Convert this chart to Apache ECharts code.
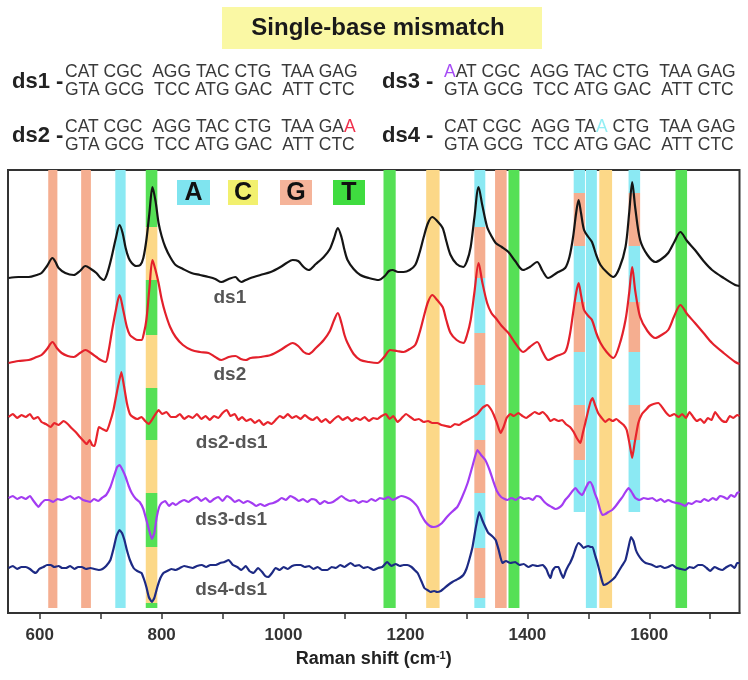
<!DOCTYPE html>
<html>
<head>
<meta charset="utf-8">
<script src="https://cdn.jsdelivr.net/npm/echarts@6.0.0/dist/echarts.min.js"></script>
<style>
html,body{margin:0;padding:0;background:#fff;}
#chart{width:748px;height:680px;}
</style>
</head>
<body>
<div id="chart"></div>
<script>
// ---------------- DATA ----------------
const xTickValues = [600, 700, 800, 900, 1000, 1100, 1200, 1300, 1400, 1500, 1600, 1700];
const xLabelValues = [600, 800, 1000, 1200, 1400, 1600];

const ds1 = [[549,335],[565,336],[582,336],[595,338],[603,340],[612,347],[621,355],[626,351],[631,345],[642,340],[656,338],[666,342],[675,347],[684,344],[693,340],[700,335],[705,333],[711,340],[718,356],[725,375],[731,388],[736,380],[741,365],[746,355],[751,350],[758,347],[765,348],[770,355],[775,373],[780,400],[785,426],[790,412],[795,390],[800,377],[806,366],[814,356],[823,348],[835,344],[849,340],[863,338],[877,336],[888,334],[898,331],[910,334],[921,336],[926,333],[931,331],[938,333],[946,335],[962,338],[979,341],[995,346],[1005,350],[1015,353],[1024,352],[1033,346],[1041,343],[1053,349],[1066,356],[1076,364],[1083,375],[1089,385],[1095,376],[1100,363],[1105,353],[1115,344],[1126,338],[1140,335],[1156,333],[1166,337],[1173,342],[1179,343],[1188,341],[1197,341],[1207,343],[1216,348],[1223,360],[1230,376],[1237,390],[1244,396],[1252,392],[1261,385],[1267,372],[1274,358],[1284,349],[1295,346],[1301,352],[1307,366],[1313,395],[1320,426],[1326,408],[1334,386],[1341,377],[1348,370],[1358,366],[1369,361],[1380,352],[1393,343],[1404,346],[1416,351],[1425,342],[1434,335],[1448,340],[1462,345],[1469,356],[1475,376],[1480,400],[1484,413],[1488,400],[1493,383],[1500,376],[1506,371],[1513,358],[1520,348],[1530,341],[1541,336],[1551,345],[1561,366],[1567,400],[1572,431],[1577,405],[1585,373],[1597,358],[1610,351],[1620,354],[1631,360],[1641,371],[1651,381],[1662,372],[1675,363],[1689,352],[1703,343],[1722,335],[1741,328],[1748,327]];

const ds2 = [[549,250],[565,252],[582,253],[595,256],[603,258],[612,264],[621,271],[628,265],[636,260],[646,257],[656,256],[666,260],[675,263],[684,260],[693,256],[700,253],[708,251],[713,262],[718,280],[725,303],[731,318],[737,303],[743,286],[748,278],[754,275],[761,273],[767,273],[771,280],[775,293],[780,325],[785,353],[790,343],[795,330],[800,314],[806,300],[814,286],[823,276],[835,268],[849,263],[863,261],[877,260],[888,256],[898,253],[910,256],[921,257],[930,254],[938,253],[946,255],[962,256],[979,258],[995,263],[1005,267],[1015,270],[1024,267],[1033,261],[1041,259],[1053,265],[1066,273],[1076,282],[1083,293],[1089,300],[1095,290],[1100,278],[1105,270],[1115,259],[1126,253],[1140,251],[1154,250],[1165,256],[1175,263],[1186,262],[1197,261],[1207,264],[1216,268],[1223,280],[1230,296],[1237,311],[1244,318],[1252,313],[1261,306],[1267,293],[1274,280],[1284,273],[1295,270],[1301,278],[1307,293],[1313,320],[1320,350],[1326,331],[1334,310],[1341,300],[1348,295],[1358,287],[1369,280],[1380,270],[1393,261],[1404,266],[1416,271],[1425,261],[1434,253],[1448,257],[1462,261],[1469,276],[1475,300],[1480,320],[1484,330],[1488,318],[1493,303],[1500,297],[1506,293],[1513,280],[1520,270],[1530,261],[1541,255],[1551,268],[1561,293],[1567,320],[1572,346],[1577,322],[1585,296],[1597,282],[1610,275],[1620,278],[1631,283],[1641,297],[1651,308],[1662,299],[1675,290],[1689,280],[1703,270],[1722,260],[1741,251],[1748,249]];

const ds2MinusDs1 = [[549,196],[556,199],[563,195],[570,198],[577,196],[584,199],[590,194],[597,196],[603,191],[610,189],[618,186],[624,190],[631,188],[639,192],[646,189],[652,185],[659,181],[666,176],[672,172],[677,169],[682,173],[686,168],[690,167],[694,178],[697,186],[703,184],[710,182],[715,190],[721,203],[727,222],[734,241],[738,228],[743,210],[748,199],[753,196],[760,194],[767,196],[773,192],[779,189],[784,193],[789,198],[795,203],[801,199],[808,201],[815,196],[823,196],[830,199],[837,194],[844,197],[851,195],[858,199],[865,194],[872,197],[879,193],[886,197],[893,195],[900,200],[907,203],[913,197],[920,199],[926,193],[932,196],[939,192],[946,194],[953,190],[960,193],[967,188],[974,191],[980,189],[987,193],[994,197],[1000,195],[1007,199],[1014,195],[1021,197],[1028,194],[1035,198],[1041,195],[1048,193],[1055,196],[1062,191],[1069,194],[1076,190],[1083,194],[1090,197],[1097,193],[1105,196],[1112,192],[1119,195],[1126,193],[1133,196],[1140,192],[1147,195],[1154,194],[1161,197],[1168,199],[1174,194],[1180,197],[1187,191],[1194,195],[1201,199],[1208,196],[1215,193],[1222,194],[1230,191],[1237,192],[1244,190],[1252,190],[1259,188],[1266,187],[1274,186],[1281,189],[1288,188],[1295,191],[1302,193],[1310,196],[1318,199],[1326,205],[1334,208],[1340,204],[1345,198],[1350,190],[1356,180],[1361,186],[1366,195],[1372,199],[1378,197],[1385,200],[1392,197],[1398,195],[1405,198],[1412,201],[1419,199],[1425,201],[1432,197],[1438,192],[1444,194],[1451,192],[1457,193],[1463,189],[1470,186],[1476,181],[1481,175],[1487,170],[1491,180],[1495,190],[1500,203],[1504,212],[1507,215],[1511,208],[1516,200],[1522,195],[1528,191],[1534,194],[1540,192],[1546,194],[1552,191],[1558,188],[1563,183],[1568,168],[1572,155],[1576,170],[1582,190],[1588,199],[1594,203],[1600,207],[1607,209],[1615,210],[1622,205],[1628,200],[1634,197],[1641,199],[1648,196],[1654,199],[1660,195],[1666,201],[1672,196],[1678,192],[1684,194],[1690,190],[1696,195],[1702,193],[1708,201],[1714,196],[1720,192],[1726,191],[1732,197],[1738,195],[1744,198],[1748,197]];

const ds3MinusDs1 = [[549,115],[556,117],[563,114],[570,116],[577,114],[584,117],[590,112],[595,108],[598,106],[603,110],[609,113],[615,113],[622,111],[629,114],[636,113],[643,115],[650,117],[657,114],[664,116],[671,113],[677,112],[683,111],[689,114],[696,112],[702,115],[709,118],[716,126],[722,137],[727,146],[731,148],[736,143],[741,136],[746,127],[751,120],[758,114],[764,111],[770,104],[775,93],[779,84],[784,74],[788,80],[792,96],[796,106],[800,110],[806,112],[812,107],[818,110],[823,108],[830,111],[837,113],[844,111],[851,114],[858,116],[865,112],[872,115],[879,111],[886,114],[893,116],[900,112],[907,117],[913,115],[920,111],[927,113],[934,110],[941,112],[948,110],[955,107],[962,109],[969,107],[976,109],[983,110],[990,112],[997,115],[1004,113],[1011,117],[1018,115],[1025,112],[1032,114],[1039,111],[1046,114],[1053,113],[1060,109],[1067,112],[1074,110],[1081,111],[1088,114],[1095,117],[1102,114],[1109,112],[1116,113],[1123,110],[1130,112],[1137,111],[1144,114],[1151,112],[1158,115],[1165,114],[1172,116],[1179,113],[1186,115],[1193,117],[1200,116],[1207,114],[1213,111],[1220,106],[1226,98],[1233,91],[1240,87],[1246,86],[1253,87],[1260,90],[1268,96],[1276,101],[1285,106],[1293,116],[1302,130],[1310,147],[1318,163],[1324,158],[1331,153],[1338,143],[1344,132],[1350,122],[1357,116],[1367,113],[1374,115],[1381,113],[1388,116],[1395,114],[1402,115],[1409,113],[1415,117],[1421,116],[1428,111],[1434,108],[1440,106],[1446,104],[1451,105],[1457,108],[1462,113],[1468,117],[1474,122],[1479,125],[1484,121],[1490,118],[1495,124],[1500,130],[1503,131],[1507,127],[1511,119],[1515,113],[1519,104],[1523,98],[1528,99],[1533,101],[1539,103],[1545,107],[1551,112],[1556,116],[1561,121],[1566,125],[1571,121],[1577,115],[1584,113],[1591,115],[1598,114],[1605,115],[1612,112],[1619,114],[1625,111],[1631,113],[1638,111],[1645,110],[1652,109],[1659,107],[1664,110],[1670,109],[1677,112],[1684,111],[1690,114],[1697,112],[1704,115],[1710,113],[1716,117],[1722,116],[1728,114],[1734,118],[1740,116],[1744,120],[1748,121]];

const ds4MinusDs1 = [[549,45],[556,47],[563,44],[570,46],[577,46],[584,44],[590,41],[594,40],[599,44],[606,46],[612,48],[618,48],[624,46],[631,47],[637,45],[643,45],[650,47],[657,44],[663,46],[669,46],[676,44],[683,45],[690,44],[697,43],[703,44],[709,47],[716,53],[721,64],[726,77],[731,83],[735,80],[739,73],[743,63],[748,53],[754,45],[760,42],[767,40],[771,34],[775,26],[779,16],[784,11],[788,15],[793,26],[798,35],[803,40],[809,42],[816,44],[823,43],[830,45],[837,47],[844,46],[851,45],[858,47],[866,48],[873,46],[880,48],[889,48],[896,50],[903,51],[910,53],[917,48],[924,46],[931,43],[938,47],[944,42],[951,40],[958,45],[965,41],[970,37],[975,36],[981,40],[987,45],[994,43],[1000,46],[1007,44],[1014,47],[1021,48],[1028,48],[1035,46],[1042,47],[1049,44],[1056,46],[1063,43],[1072,43],[1079,46],[1086,45],[1093,48],[1100,46],[1110,50],[1117,47],[1124,48],[1131,45],[1138,46],[1148,43],[1155,45],[1162,46],[1170,51],[1177,47],[1184,49],[1191,47],[1197,48],[1203,48],[1210,46],[1215,43],[1220,40],[1226,32],[1231,25],[1236,23],[1241,21],[1247,22],[1252,21],[1258,22],[1264,25],[1270,28],[1277,31],[1283,33],[1289,35],[1295,38],[1300,44],[1305,54],[1310,66],[1315,84],[1321,101],[1326,93],[1331,86],[1336,80],[1342,77],[1348,73],[1353,63],[1359,50],[1365,52],[1372,50],[1380,51],[1387,48],[1394,49],[1402,46],[1409,48],[1416,47],[1425,48],[1431,44],[1435,38],[1438,35],[1441,42],[1446,46],[1451,46],[1455,40],[1459,35],[1463,42],[1467,47],[1470,50],[1475,57],[1480,66],[1484,70],[1488,68],[1492,65],[1495,66],[1500,67],[1504,66],[1507,66],[1511,58],[1515,50],[1520,38],[1525,28],[1530,29],[1537,32],[1544,36],[1550,42],[1555,47],[1561,53],[1566,66],[1570,76],[1574,72],[1578,63],[1582,58],[1588,53],[1594,50],[1600,49],[1605,48],[1612,46],[1618,47],[1625,45],[1631,46],[1638,48],[1645,45],[1652,44],[1659,43],[1666,46],[1673,45],[1680,48],[1687,48],[1694,45],[1700,42],[1707,46],[1714,44],[1720,43],[1727,46],[1734,48],[1740,45],[1744,50],[1748,50]];

// Vertical base-assignment bands: [shiftFrom, shiftTo, base]
const fullBands = [
  [614, 629, 'G'], [668, 684, 'G'], [724, 741, 'A'],
  [1164, 1184, 'T'], [1234, 1256, 'C'], [1347, 1366, 'G'], [1369, 1387, 'T'],
  [1496, 1514, 'A'], [1518, 1539, 'C'], [1643, 1662, 'T']
];
// Segmented bands: [shiftFrom, shiftTo, [[yFrom, yTo, base], ...]]
const segmentedBands = [
  [774, 793, [[386,443,'T'],[333,386,'C'],[278,333,'T'],[225,278,'C'],[173,225,'T'],[120,173,'C'],[66,120,'T'],[10,66,'C'],[5,10,'T']]],
  [1313, 1331, [[386,443,'A'],[335,386,'G'],[280,335,'A'],[228,280,'G'],[173,228,'A'],[120,173,'G'],[65,120,'A'],[15,65,'G'],[5,15,'A']]],
  [1476, 1494.5, [[420,443,'A'],[367,420,'G'],[311,367,'A'],[261,311,'G'],[208,261,'A'],[153,208,'G'],[101,153,'A']]],
  [1566, 1585, [[420,443,'A'],[367,420,'G'],[311,367,'A'],[261,311,'G'],[208,261,'A'],[173,208,'G'],[101,173,'A']]]
];
const bandExtent = [5, 443];

const traceNames = ['ds1', 'ds2', 'ds2-ds1', 'ds3-ds1', 'ds4-ds1'];
const traceLabelPos = [[912, 315], [912, 238], [915, 170], [914, 93], [914, 23]];

const baseLegend = ['A', 'C', 'G', 'T'];

const seqTop = 'CAT CGC  AGG TAC CTG  TAA GAG';
const seqBottom = 'GTA GCG  TCC ATG GAC  ATT CTC';

// ---------------- STYLES ----------------
const FONT = '"Liberation Sans", Arial, Helvetica, sans-serif';
const bandColor = {A: '#8be9f3', C: '#fcd888', G: '#f5ae90', T: '#55e055'};
const boxColor = {A: '#7fe4ef', C: '#f2f06e', G: '#f5b49a', T: '#3fdc3f'};
const traceColors = ['#151515', '#e3202b', '#e8242c', '#a33cf2', '#1d2a84'];

// build markArea data
const markAreaData = [];
fullBands.forEach(b => {
  markAreaData.push([
    {xAxis: b[0], yAxis: bandExtent[0], itemStyle: {color: bandColor[b[2]], opacity: 1}},
    {xAxis: b[1], yAxis: bandExtent[1]}
  ]);
});
segmentedBands.forEach(b => {
  b[2].forEach(s => {
    markAreaData.push([
      {xAxis: b[0], yAxis: s[0], itemStyle: {color: bandColor[s[2]], opacity: 1}},
      {xAxis: b[1], yAxis: s[1]}
    ]);
  });
});

const traces = [ds1, ds2, ds2MinusDs1, ds3MinusDs1, ds4MinusDs1];
const series = traces.map((d, i) => ({
  type: 'line',
  name: traceNames[i],
  data: d,
  showSymbol: false,
  symbol: 'none',
  smooth: i < 2 ? 0.3 : 0.15,
  silent: true,
  z: 3,
  lineStyle: {color: traceColors[i], width: 2.2},
  markArea: i === 0 ? {silent: true, data: markAreaData, itemStyle: {borderWidth: 0}} : undefined
}));
series.push({
  type: 'scatter',
  silent: true,
  symbolSize: 0,
  z: 5,
  data: traceNames.map((n, i) => ({name: n, value: traceLabelPos[i]})),
  label: {
    show: true, position: 'inside', formatter: '{b}',
    fontFamily: FONT, fontWeight: 'bold', fontSize: 19, color: '#2a2a2a'
  }
});

// ---------------- GRAPHICS (header) ----------------
const graphic = [];
graphic.push({type: 'rect', shape: {x: 222, y: 7, width: 320, height: 42}, style: {fill: '#faf8a4'}});
graphic.push({type: 'text', x: 378, y: 28, style: {text: 'Single-base mismatch', font: 'bold 24px ' + FONT, fill: '#1a1a1a', align: 'center', verticalAlign: 'middle'}});

const SEQ_FONT = '17.5px ' + FONT;
function seqLabel(txt, x, y) {
  graphic.push({type: 'text', x: x, y: y, style: {text: txt, font: 'bold 22px ' + FONT, fill: '#222', align: 'left', verticalAlign: 'middle'}});
}
function seqRow(txt, x, y, rich) {
  graphic.push({type: 'text', x: x, y: y, style: {text: txt, font: SEQ_FONT, fill: '#3a3a3a', align: 'left', verticalAlign: 'middle', rich: rich || {}}});
}
const richSeq = {
  r: {fill: '#f0304c', font: SEQ_FONT},
  p: {fill: '#a64cf5', font: SEQ_FONT},
  c: {fill: '#93eef4', font: SEQ_FONT}
};
seqLabel('ds1 -', 12, 82);
seqRow(seqTop, 65, 72);
seqRow(seqBottom, 65, 90);
seqLabel('ds2 -', 12, 136);
seqRow('CAT CGC  AGG TAC CTG  TAA GA{r|A}', 65, 127, richSeq);
seqRow(seqBottom, 65, 145);
seqLabel('ds3 -', 382, 82);
seqRow('{p|A}AT CGC  AGG TAC CTG  TAA GAG', 444, 72, richSeq);
seqRow(seqBottom, 444, 90);
seqLabel('ds4 -', 382, 136);
seqRow('CAT CGC  AGG TA{c|A} CTG  TAA GAG', 444, 127, richSeq);
seqRow(seqBottom, 444, 145);

// ACGT legend boxes inside the plot
const boxX = [177, 228, 280, 333];
const boxW = [33, 30, 32, 32];
baseLegend.forEach((b, i) => {
  graphic.push({type: 'rect', z: 10, shape: {x: boxX[i], y: 180, width: boxW[i], height: 25}, style: {fill: boxColor[b]}});
  graphic.push({type: 'text', z: 11, x: boxX[i] + boxW[i] / 2, y: 193, style: {text: b, font: 'bold 25px ' + FONT, fill: '#111', align: 'center', verticalAlign: 'middle'}});
});

// ---------------- CHART ----------------
const chart = echarts.init(document.getElementById('chart'), null, {renderer: 'canvas'});
chart.setOption({
  animation: false,
  backgroundColor: '#ffffff',
  grid: {left: 8, right: 8.5, top: 170, bottom: 67, show: true, borderColor: '#333', borderWidth: 2, backgroundColor: 'transparent'},
  xAxis: {
    type: 'value', min: 548, max: 1748,
    axisLine: {show: true, onZero: false, lineStyle: {color: '#333', width: 2}},
    axisTick: {show: true, inside: false, length: 6, customValues: xTickValues, lineStyle: {color: '#333', width: 1.5}},
    axisLabel: {customValues: xLabelValues, formatter: v => String(v), margin: 14, fontSize: 17, fontWeight: 'bold', color: '#333', fontFamily: FONT},
    splitLine: {show: false},
    name: 'Raman shift (cm{sup|-1})',
    nameLocation: 'middle', nameGap: 37,
    nameTextStyle: {fontSize: 18, fontWeight: 'bold', color: '#222', fontFamily: FONT,
      rich: {sup: {fontSize: 11, fontWeight: 'bold', color: '#222', fontFamily: FONT, verticalAlign: 'top', lineHeight: 12}}}
  },
  yAxis: {type: 'value', min: 0, max: 443, show: false, splitLine: {show: false}},
  series: series,
  graphic: graphic
});
</script>
</body>
</html>
